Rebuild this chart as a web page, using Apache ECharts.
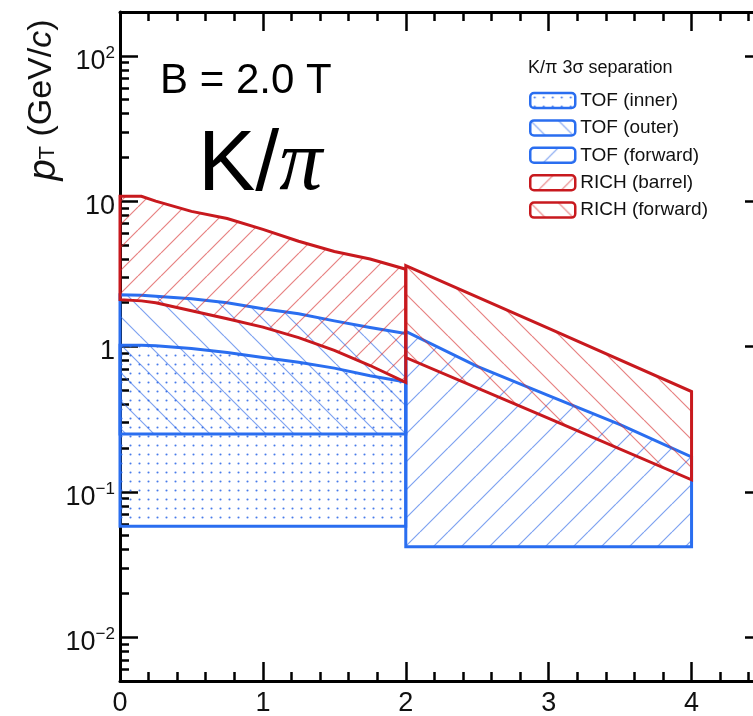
<!DOCTYPE html>
<html><head><meta charset="utf-8">
<script src="https://cdn.jsdelivr.net/npm/echarts@6/dist/echarts.min.js"></script>
<style>html,body{margin:0;padding:0;background:#fff}#c{width:753px;height:716px}</style>
</head><body><div id="c"></div>
<script>
// ---------- data ----------
const barrelX        = [0, 0.15, 0.25, 0.5, 0.75, 1.0, 1.25, 1.5, 1.75, 2.0];
const tofInnerTop    = [1.02, 1.02, 1.01, 0.97, 0.91, 0.84, 0.78, 0.71, 0.63, 0.57];
const tofOuterTop    = [2.27, 2.25, 2.22, 2.13, 2.0, 1.82, 1.68, 1.5, 1.35, 1.23];
const richBarrelLow  = [2.1, 2.06, 2.0, 1.76, 1.55, 1.36, 1.15, 0.94, 0.74, 0.567];
const richBarrelTop  = [10.8, 10.8, 10.0, 8.5, 7.6, 6.4, 5.3, 4.5, 4.0, 3.4];
const tofInnerMin    = 0.058;
const tofOuterMin    = 0.25;
const fwdX           = [2, 2.5, 3, 3.5, 4];
const tofFwdTop      = [1.27, 0.73, 0.46, 0.29, 0.174];
const tofFwdMin      = 0.042;
const richFwdX       = [2, 3, 4];
const richFwdTop     = [3.6, 1.33, 0.49];
const richFwdLow     = [0.84, 0.32, 0.121];

const seriesNames = ['TOF (inner)', 'TOF (outer)', 'TOF (forward)', 'RICH (barrel)', 'RICH (forward)'];
const xMajor = [0, 1, 2, 3, 4];
const xMinor = [0.2,0.4,0.6,0.8,1.2,1.4,1.6,1.8,2.2,2.4,2.6,2.8,3.2,3.4,3.6,3.8,4.2,4.4];
const yMinor = [0.006,0.007,0.008,0.009,0.02,0.03,0.04,0.05,0.06,0.07,0.08,0.09,
                0.2,0.3,0.4,0.5,0.6,0.7,0.8,0.9,2,3,4,5,6,7,8,9,20,30,40,50,60,70,80,90];
const yMin = 0.005, yMax = 200;

// ---------- styling ----------
const FONT = '"Liberation Sans", Arial, Helvetica, sans-serif';
const RED = '#c8191e', BLUE = '#2a6ef0';

function hatch(color, s, dir, lw) {
  const c = document.createElement('canvas'); c.width = s; c.height = s;
  const g = c.getContext('2d'); g.strokeStyle = color; g.lineWidth = lw;
  g.beginPath();
  for (let k = -1; k <= 1; k++) {
    if (dir === '/') { g.moveTo(k * s, s); g.lineTo(k * s + s, 0); }
    else { g.moveTo(k * s, 0); g.lineTo(k * s + s, s); }
  }
  g.stroke();
  return { image: c, repeat: 'repeat' };
}
function dots(color, s, r) {
  const c = document.createElement('canvas'); c.width = s; c.height = s;
  const g = c.getContext('2d'); g.fillStyle = color;
  g.beginPath(); g.arc(s / 2, s / 2, r, 0, Math.PI * 2); g.fill();
  return { image: c, repeat: 'repeat' };
}
const fills = [
  dots('rgba(40,100,230,0.85)', 9, 1.05),
  hatch('rgba(40,100,230,0.6)', 28, '\\', 1.2),
  hatch('rgba(40,100,230,0.6)', 28, '/', 1.2),
  hatch('rgba(215,45,45,0.6)', 23, '/', 1.2),
  hatch('rgba(215,45,45,0.6)', 28, '\\', 1.2)
];
const strokes = [BLUE, BLUE, BLUE, RED, RED];

function band(xs, top, bottom) {
  const pts = xs.map((x, i) => [x, top[i]]);
  if (Array.isArray(bottom)) {
    for (let i = xs.length - 1; i >= 0; i--) pts.push([xs[i], bottom[i]]);
  } else {
    pts.push([xs[xs.length - 1], bottom]); pts.unshift([xs[0], bottom]);
  }
  return pts;
}
const regions = [
  band(barrelX, tofInnerTop, tofInnerMin),
  band(barrelX, tofOuterTop, tofOuterMin),
  band(fwdX, tofFwdTop, tofFwdMin),
  band(barrelX, richBarrelTop, richBarrelLow),
  band(richFwdX, richFwdTop, richFwdLow)
];

const series = regions.map((pts, i) => ({
  type: 'custom', name: seriesNames[i], coordinateSystem: 'cartesian2d',
  xAxisIndex: 0, yAxisIndex: 0, data: pts, silent: true, clip: false,
  itemStyle: { color: fills[i], borderColor: strokes[i], borderWidth: 2.5 },
  renderItem: function (params, api) {
    if (params.dataIndex !== 0) return null;
    const p = pts.map(d => api.coord(d));
    return { type: 'polygon', shape: { points: p },
      style: { fill: fills[i], stroke: strokes[i], lineWidth: 3, lineJoin: 'miter' } };
  }
}));

const tickStyle = { color: '#000', width: 2.5 };
const baseX = { type: 'value', min: 0, max: 4.5, splitLine: { show: false } };
const xAxes = [
  Object.assign({}, baseX, { position: 'bottom',
    axisLine: { show: true, onZero: false, lineStyle: { color: '#000', width: 3 } },
    axisTick: { show: true, inside: true, length: 19, lineStyle: tickStyle, customValues: xMajor },
    axisLabel: { show: true, customValues: xMajor, fontSize: 27, fontFamily: FONT, color: '#111', margin: 9 } }),
  Object.assign({}, baseX, { position: 'bottom', axisLine: { show: false, onZero: false },
    axisTick: { show: true, inside: true, length: 9, lineStyle: tickStyle, customValues: xMinor },
    axisLabel: { show: false } }),
  Object.assign({}, baseX, { position: 'top',
    axisLine: { show: true, onZero: false, lineStyle: { color: '#000', width: 3 } },
    axisTick: { show: true, inside: true, length: 19, lineStyle: tickStyle, customValues: xMajor },
    axisLabel: { show: false } }),
  Object.assign({}, baseX, { position: 'top', axisLine: { show: false, onZero: false },
    axisTick: { show: true, inside: true, length: 9, lineStyle: tickStyle, customValues: xMinor },
    axisLabel: { show: false } })
];

function yLabel(v) {
  const l = Math.log10(v), e = Math.round(l);
  if (Math.abs(l - e) > 1e-6) return '';
  if (e === 0) return '{b|1}';
  if (e === 1) return '{b|10}';
  return '{b|10}{s|' + (e < 0 ? '\u2212' : '') + Math.abs(e) + '}';
}
const yAxes = [
  { type: 'log', logBase: 10, min: yMin, max: yMax, position: 'left', splitLine: { show: false },
    axisLine: { show: true, onZero: false, lineStyle: { color: '#000', width: 3 } },
    axisTick: { show: true, inside: true, length: 18, lineStyle: tickStyle },
    minorTick: { show: false },
    axisLabel: { show: true, showMinLabel: true, showMaxLabel: true, formatter: yLabel, margin: 5, padding: [8, 0, 0, 0],
      rich: { b: { fontSize: 27, lineHeight: 30, fontFamily: FONT, color: '#111', verticalAlign: 'bottom' },
              s: { fontSize: 17, lineHeight: 17, fontFamily: FONT, color: '#111', verticalAlign: 'top' } } } },
  { type: 'value', min: Math.log10(yMin), max: Math.log10(yMax), position: 'left', splitLine: { show: false },
    axisLine: { show: false, onZero: false },
    axisTick: { show: true, inside: true, length: 9, lineStyle: tickStyle, customValues: yMinor.map(Math.log10) },
    axisLabel: { show: false } },
  { type: 'log', logBase: 10, min: yMin, max: yMax, position: 'right', splitLine: { show: false },
    axisLine: { show: true, onZero: false, lineStyle: { color: '#000', width: 3 } },
    axisTick: { show: true, inside: true, length: 18, lineStyle: tickStyle },
    axisLabel: { show: false } },
  { type: 'value', min: Math.log10(yMin), max: Math.log10(yMax), position: 'right', splitLine: { show: false },
    axisLine: { show: false, onZero: false },
    axisTick: { show: true, inside: true, length: 9, lineStyle: tickStyle, customValues: yMinor.map(Math.log10) },
    axisLabel: { show: false } }
];

const chart = echarts.init(document.getElementById('c'), null, { renderer: 'canvas' });
chart.setOption({
  animation: false,
  backgroundColor: '#fff',
  title: { text: 'K/\u03c0 3\u03c3 separation', left: 528, top: 59, padding: 0,
    textStyle: { fontFamily: FONT, fontSize: 18, fontWeight: 'normal', color: '#111' } },
  legend: {
    orient: 'vertical', left: 529, top: 91, padding: 0, selectedMode: false,
    itemWidth: 45, itemHeight: 15, itemGap: 8.4, icon: 'roundRect',
    textStyle: { fontFamily: FONT, fontSize: 19, lineHeight: 19, color: '#111' },
    data: seriesNames.map((n, i) => ({ name: n,
      itemStyle: { color: fills[i], borderColor: strokes[i], borderWidth: 2.5 } }))
  },
  grid: { left: 120, right: -10, top: 12, bottom: 35, containLabel: false, outerBoundsMode: 'none' },
  xAxis: xAxes,
  yAxis: yAxes,
  series: series,
  graphic: [
    { type: 'text', x: 160, y: 81, silent: true,
      style: { text: 'B = 2.0 T', fontSize: 42, fontFamily: FONT, fill: '#000', verticalAlign: 'middle' } },
    { type: 'text', x: 198, y: 166, silent: true,
      style: { text: '{k|K/}{p|\u03c0}', verticalAlign: 'middle',
        rich: { k: { fontSize: 86, fontFamily: FONT, fill: '#000' },
                p: { fontSize: 86, fontFamily: '"Liberation Serif", "DejaVu Serif", serif', fontStyle: 'italic', fill: '#000' } } } },
    { type: 'text', x: 42, y: 100, rotation: Math.PI / 2, silent: true,
      style: { text: '{p|p}{t|T}{n| (GeV/}{c|c}{n|)}', align: 'center', verticalAlign: 'middle',
        rich: { p: { fontSize: 38, lineHeight: 34, fontFamily: FONT, fontStyle: 'italic', fill: '#111', verticalAlign: 'top' },
                t: { fontSize: 22, lineHeight: 22, padding: [20, 0, 0, 0], fontFamily: FONT, fill: '#111', verticalAlign: 'bottom' },
                n: { fontSize: 34, lineHeight: 34, fontFamily: FONT, fill: '#111', verticalAlign: 'top' },
                c: { fontSize: 34, lineHeight: 34, fontFamily: FONT, fontStyle: 'italic', fill: '#111', verticalAlign: 'top' } } } }
  ]
});
</script>
</body></html>
